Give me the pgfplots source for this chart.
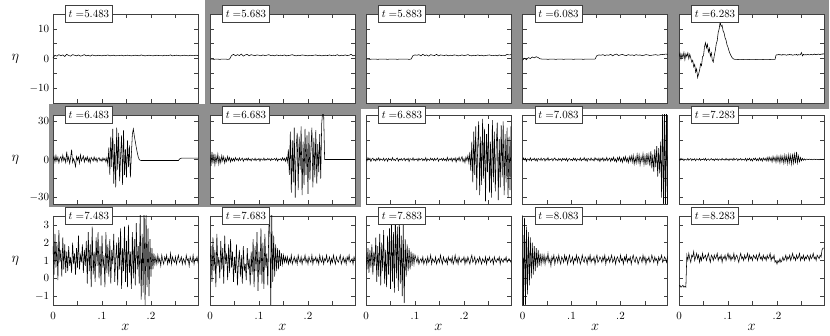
\documentclass[11pt,border=0pt]{standalone}
\usepackage{pgfplots}
\pgfplotsset{compat=1.18}
\definecolor{hl}{RGB}{143,143,143}

\pgfplotsset{
  every axis title/.style={at={(axis description cs:0,1)}, anchor=west, xshift=12pt,
    draw=black!75, fill=white, line width=0.5pt, inner xsep=3.5pt, inner ysep=5pt},
  every axis y label/.style={at={(axis description cs:-0.26,0.5)}, anchor=center, font=\Large},
  every axis x label/.style={at={(axis description cs:0.5,-0.25)}, anchor=center, font=\Large},
  panel/.style={scale only axis, width=145pt, height=89pt, xmin=0, xmax=0.296,
    xtick={0,0.1,0.2}, minor xtick={0.05,0.15,0.25},
    tick align=inside, major tick length=4pt, minor tick length=4pt,
    axis line style={black!75, line width=0.5pt},
    every tick/.style={black!75, line width=0.5pt},
    axis background/.style={fill=white},
    xticklabel style={yshift=-4pt}},
  r1/.style={ymin=-15, ymax=15, ytick={-10,0,10}, minor ytick={-5,5}},
  r2/.style={ymin=-35, ymax=35, ytick={-30,0,30}, minor ytick={-15,15}},
  r3/.style={ymin=-1.5, ymax=3.5, ytick={-1,0,1,2,3}},
  nox/.style={xticklabels={}},
  noy/.style={yticklabels={}},
  lefty/.style={ylabel={$\eta$}},
  botx/.style={xticklabels={$0$,$.1$,$.2$}, xlabel={$x$}},
  sig/.style={black, line width=0.55pt, mark=none},
}

\begin{document}
\begin{tikzpicture}[x=1pt,y=1pt]
\path[use as bounding box] (0,0) rectangle (830,-336);
% highlighted panels
\fill[hl] (204.5,0) rectangle (829,-109);
\fill[hl] (49,-104) rectangle (360.5,-207);

% ---------- row 1 ----------
\begin{axis}[panel, r1, nox, lefty, at={(53pt,-14pt)}, anchor=north west, title={$t\;{=}5.483$}]
\addplot[sig] table[x expr=\coordindex*0.004, y index=0, header=false, row sep=\\] {
0.2\\1.1\\0.8\\1.3\\0.9\\1.2\\0.7\\1.4\\1.0\\0.8\\1.3\\1.1\\0.9\\1.2\\0.8\\1.0\\1.3\\0.9\\1.1\\0.8\\
1.2\\1.0\\0.9\\1.1\\1.0\\0.9\\1.1\\1.0\\1.2\\0.9\\1.0\\1.1\\0.9\\1.0\\1.0\\1.1\\0.9\\1.0\\1.1\\1.0\\
0.9\\1.0\\1.1\\1.0\\0.9\\1.2\\1.0\\0.9\\1.0\\1.1\\1.0\\0.9\\1.0\\1.1\\1.0\\1.0\\0.9\\1.1\\1.0\\1.0\\
1.2\\0.9\\1.0\\1.1\\1.0\\0.9\\1.0\\1.1\\1.0\\0.9\\1.1\\1.0\\1.0\\1.1\\1.0\\1.0\\1.1\\1.0\\
};
\end{axis}

\begin{axis}[panel, r1, nox, noy, at={(210pt,-14pt)}, anchor=north west, title={$t\;{=}5.683$}]
\addplot[sig] table[x expr=\coordindex*0.004, y index=0, header=false, row sep=\\] {
-0.2\\-0.2\\-0.3\\-0.2\\-0.2\\-0.3\\-0.2\\-0.2\\-0.2\\-0.3\\-0.2\\
1.0\\1.4\\0.9\\1.3\\1.0\\1.5\\0.8\\1.2\\1.4\\0.9\\1.3\\1.1\\1.0\\1.2\\1.1\\0.9\\1.2\\1.0\\1.1\\1.3\\
1.0\\1.1\\0.9\\1.2\\1.0\\1.1\\1.0\\1.2\\0.9\\1.0\\1.1\\1.3\\1.0\\0.9\\1.1\\1.0\\1.2\\1.1\\1.0\\0.9\\
1.1\\1.0\\1.1\\1.2\\1.0\\1.1\\0.9\\1.0\\1.1\\1.0\\1.2\\1.0\\1.1\\1.0\\1.3\\0.9\\1.1\\1.0\\1.2\\1.0\\
1.1\\1.4\\0.9\\1.1\\1.0\\1.2\\1.0\\
};
\end{axis}

\begin{axis}[panel, r1, nox, noy, at={(366pt,-14pt)}, anchor=north west, title={$t\;{=}5.883$}]
\addplot[sig] table[x expr=\coordindex*0.004, y index=0, header=false, row sep=\\] {
-0.2\\-0.2\\-0.3\\-0.2\\-0.2\\-0.2\\-0.3\\-0.2\\-0.2\\-0.2\\-0.2\\-0.3\\-0.2\\-0.2\\-0.2\\-0.2\\-0.3\\-0.2\\-0.2\\-0.2\\
-0.2\\-0.2\\-0.3\\-0.2\\
1.0\\1.2\\1.1\\1.3\\0.9\\1.4\\1.0\\1.2\\0.8\\1.3\\1.1\\1.0\\1.4\\0.9\\1.2\\1.1\\1.0\\1.2\\0.9\\1.1\\
1.0\\1.2\\1.1\\0.9\\1.0\\1.2\\1.0\\1.1\\1.3\\1.0\\0.9\\1.1\\1.0\\1.2\\1.0\\1.1\\0.9\\1.0\\1.1\\1.2\\
1.0\\1.0\\1.1\\0.9\\1.2\\1.0\\1.1\\1.0\\1.4\\1.2\\1.3\\1.3\\1.2\\
};
\end{axis}

\begin{axis}[panel, r1, nox, noy, at={(522.5pt,-14pt)}, anchor=north west, title={$t\;{=}6.083$}]
\addplot[sig] table[x expr=\coordindex*0.004, y index=0, header=false, row sep=\\] {
-0.6\\0.1\\-0.4\\0.3\\0.0\\0.5\\0.2\\0.6\\0.3\\
-0.1\\-0.2\\-0.2\\-0.2\\-0.3\\-0.2\\-0.2\\-0.2\\-0.3\\-0.2\\-0.2\\-0.2\\-0.3\\-0.2\\-0.2\\-0.2\\-0.2\\-0.3\\-0.2\\-0.2\\
-0.2\\-0.2\\-0.3\\-0.2\\-0.2\\-0.2\\-0.2\\-0.2\\-0.2\\
1.0\\1.2\\1.1\\1.3\\1.0\\1.2\\1.1\\1.4\\0.9\\1.3\\1.5\\1.0\\1.2\\1.4\\1.1\\1.0\\1.3\\1.1\\1.2\\1.0\\
1.3\\1.1\\1.2\\1.0\\1.1\\1.3\\1.2\\1.0\\1.1\\1.2\\1.3\\1.1\\1.2\\1.4\\1.3\\1.5\\1.4\\1.4\\1.3\\
};
\end{axis}

\begin{axis}[panel, r1, nox, noy, at={(679pt,-14pt)}, anchor=north west, title={$t\;{=}6.283$}]
\addplot[sig] table[x expr=\coordindex*0.002, y index=0, header=false, row sep=\\] {
0.5\\1.8\\-0.2\\1.5\\0.3\\2.0\\-0.4\\1.6\\0.6\\1.9\\-0.1\\1.4\\0.2\\
-1.2\\-0.6\\-2.8\\-2.0\\-4.6\\-3.5\\-6.4\\-5.2\\
-4.0\\-1.8\\-2.4\\0.6\\0.9\\3.9\\5.3\\
3.6\\4.8\\2.2\\3.4\\0.8\\1.9\\-0.6\\-1.2\\
1.0\\2.6\\4.9\\6.0\\8.8\\10.0\\12.3\\
10.8\\11.2\\9.3\\8.6\\7.0\\6.2\\4.6\\3.8\\2.6\\1.7\\1.0\\0.4\\0.0\\-0.2\\-0.3\\
-0.3\\-0.3\\-0.4\\-0.3\\-0.3\\-0.3\\-0.3\\-0.4\\-0.3\\-0.3\\-0.3\\-0.3\\-0.3\\-0.4\\-0.3\\-0.3\\-0.3\\-0.3\\-0.3\\-0.3\\
-0.3\\-0.4\\-0.3\\-0.3\\-0.3\\-0.3\\-0.3\\-0.3\\-0.4\\-0.3\\-0.3\\-0.3\\-0.3\\-0.3\\-0.3\\-0.4\\-0.3\\-0.3\\-0.3\\-0.3\\
-0.3\\
1.1\\1.3\\1.2\\1.4\\1.2\\1.3\\1.1\\1.4\\1.2\\1.3\\1.2\\1.1\\1.3\\1.2\\1.4\\1.2\\1.3\\1.1\\1.2\\1.3\\
1.2\\1.4\\1.1\\1.3\\1.2\\1.3\\2.0\\0.9\\1.4\\1.2\\1.3\\1.2\\1.4\\1.3\\1.2\\1.3\\1.4\\1.2\\1.3\\1.5\\
1.3\\1.4\\1.3\\1.5\\1.4\\1.3\\1.5\\1.4\\1.6\\1.5\\1.5\\1.5\\
};
\end{axis}

% ---------- row 2 ----------
\begin{axis}[panel, r2, nox, lefty, at={(53pt,-115pt)}, anchor=north west, title={$t\;{=}6.483$}]
\addplot[sig] table[x expr=\coordindex*0.002, y index=0, header=false, row sep=\\] {
0.0\\2.5\\-2.0\\3.1\\-1.2\\1.8\\-2.6\\0.9\\2.2\\-1.5\\3.4\\-0.8\\1.2\\-2.4\\6.2\\-1.0\\2.0\\-3.1\\1.5\\7.8\\
-2.2\\0.6\\-1.8\\-5.6\\2.4\\-0.5\\1.9\\-2.8\\3.6\\-1.1\\0.8\\2.7\\-2.0\\1.4\\-0.6\\2.1\\-1.7\\0.9\\-2.5\\1.6\\
0.3\\-1.2\\2.0\\-0.8\\1.1\\-1.9\\0.7\\1.5\\-1.0\\0.4\\-1.4\\1.2\\-0.6\\0.9\\-1.8\\1.3\\
-4.0\\9.5\\-12.0\\18.0\\-6.0\\24.0\\-19.0\\12.0\\-22.0\\25.0\\-8.0\\21.0\\-17.0\\3.0\\19.0\\-20.0\\23.0\\-12.0\\8.0\\-14.0\\
15.0\\-6.0\\11.0\\-14.0\\4.0\\
20.0\\24.0\\18.5\\14.0\\9.5\\5.5\\2.0\\0.0\\
-0.6\\-0.8\\-0.8\\-0.8\\-0.8\\-0.8\\-0.8\\-0.8\\-0.8\\-0.8\\-0.8\\-0.8\\-0.8\\-0.8\\-0.8\\-0.8\\-0.8\\-0.8\\-0.8\\-0.8\\
-0.8\\-0.8\\-0.8\\-0.8\\-0.8\\-0.8\\-0.8\\-0.8\\-0.8\\-0.8\\-0.8\\-0.8\\-0.8\\-0.8\\-0.8\\-0.8\\-0.8\\-0.8\\-0.8\\-0.8\\
0.2\\0.8\\1.0\\1.0\\1.0\\1.0\\1.0\\1.0\\1.0\\1.0\\1.0\\1.0\\1.0\\1.0\\1.0\\1.0\\1.0\\1.0\\1.0\\1.0\\1.0\\1.0\\
};
\end{axis}

\begin{axis}[panel, r2, nox, noy, at={(210pt,-115pt)}, anchor=north west, title={$t\;{=}6.683$}]
\addplot[sig] table[x expr=\coordindex*0.002, y index=0, header=false, row sep=\\] {
3.5\\-5.0\\6.0\\-3.2\\4.5\\-4.1\\2.8\\-2.0\\4.2\\-3.5\\1.5\\-2.6\\3.0\\-1.2\\2.2\\-2.8\\1.0\\-1.5\\2.4\\-0.8\\
1.6\\-1.9\\0.9\\-1.1\\
0.8\\-1.2\\1.5\\-0.4\\0.6\\-1.0\\1.3\\-0.7\\0.2\\1.1\\-1.4\\0.5\\-0.3\\0.9\\-0.8\\1.2\\-0.5\\0.3\\-1.1\\0.7\\
0.1\\-0.6\\1.0\\-0.9\\0.4\\-0.2\\0.8\\-1.3\\0.6\\0.0\\-0.5\\1.1\\-0.7\\0.3\\-0.4\\0.9\\-0.2\\0.5\\-0.9\\0.7\\
-0.3\\0.2\\0.8\\-0.6\\1.0\\-1.2\\0.4\\-0.1\\0.6\\-0.8\\1.3\\-0.5\\0.9\\-1.4\\1.6\\-1.9\\
8.0\\-12.0\\22.0\\-26.0\\15.0\\-18.0\\25.0\\-30.0\\10.0\\21.0\\-24.0\\18.0\\-8.0\\26.0\\-28.0\\14.0\\-20.0\\24.0\\-12.0\\19.0\\
-27.0\\22.0\\-16.0\\9.0\\25.0\\-22.0\\17.0\\-14.0\\23.0\\-19.0\\12.0\\-10.0\\20.0\\-15.0\\
28.0\\38.0\\36.0\\0.0\\
0.0\\0.0\\0.0\\0.0\\0.0\\0.0\\0.0\\0.0\\0.0\\0.0\\0.0\\0.0\\0.0\\0.0\\0.0\\0.0\\0.0\\0.0\\0.0\\0.0\\
0.0\\0.0\\0.0\\0.0\\0.0\\0.0\\0.0\\0.0\\0.0\\0.0\\0.0\\0.0\\0.0\\0.0\\
};
\end{axis}

\begin{axis}[panel, r2, nox, noy, at={(366pt,-115pt)}, anchor=north west, title={$t\;{=}6.883$}]
\addplot[sig] table[x expr=\coordindex*0.002, y index=0, header=false, row sep=\\] {
0.6\\-1.0\\1.4\\-0.3\\0.9\\-1.5\\0.4\\1.1\\-0.7\\0.2\\-1.2\\0.8\\-0.4\\1.3\\-0.9\\0.5\\0.0\\-0.6\\1.0\\-1.1\\
0.3\\0.7\\-1.4\\0.9\\-0.2\\0.4\\-0.8\\1.5\\-0.5\\0.1\\-0.9\\0.6\\1.2\\-1.3\\0.3\\-0.4\\0.8\\-0.7\\0.2\\1.0\\
-1.0\\0.5\\-0.3\\0.9\\-1.6\\0.7\\0.1\\-0.5\\1.3\\-0.8\\0.4\\-0.2\\0.6\\-1.1\\1.0\\-0.4\\0.2\\0.8\\-0.9\\0.3\\
-0.6\\1.4\\-1.2\\0.5\\0.0\\-0.7\\1.1\\-0.3\\0.6\\-1.0\\0.9\\-0.5\\0.2\\1.2\\-1.4\\0.4\\-0.1\\0.7\\-0.8\\1.0\\
-0.6\\0.3\\-1.1\\1.6\\-0.9\\0.5\\-0.3\\1.1\\-1.5\\0.8\\-0.4\\1.3\\-2.0\\0.9\\-0.6\\1.8\\-1.2\\0.4\\2.2\\-1.7\\
0.6\\-2.4\\1.9\\-0.8\\3.0\\-2.6\\
6.0\\-9.0\\14.0\\-18.0\\22.0\\-12.0\\26.0\\-24.0\\10.0\\30.0\\-28.0\\18.0\\-20.0\\32.0\\-15.0\\24.0\\-33.0\\20.0\\-10.0\\28.0\\
-26.0\\14.0\\-30.0\\31.0\\-18.0\\22.0\\-25.0\\12.0\\29.0\\-32.0\\16.0\\-22.0\\27.0\\-14.0\\30.0\\-28.0\\20.0\\-18.0\\25.0\\-30.0\\
18.0\\-24.0\\26.0\\-20.0\\15.0\\
};
\end{axis}

\begin{axis}[panel, r2, nox, noy, at={(522.5pt,-115pt)}, anchor=north west, title={$t\;{=}7.083$}]
\addplot[sig] table[x expr=\coordindex*0.002, y index=0, header=false, row sep=\\] {
-0.8\\1.2\\-0.3\\0.9\\-1.4\\0.5\\0.2\\-0.6\\1.3\\-1.0\\0.4\\-0.2\\1.0\\-0.9\\0.6\\-1.3\\0.8\\0.0\\-0.5\\1.1\\
-0.7\\0.3\\0.9\\-1.2\\0.5\\-0.4\\1.4\\-0.8\\0.2\\-0.1\\0.7\\-1.0\\0.4\\1.2\\-0.6\\0.1\\-0.9\\0.8\\-0.3\\0.5\\
-1.1\\0.9\\-0.2\\0.6\\-0.7\\1.0\\-1.3\\0.3\\0.7\\-0.5\\0.2\\-0.9\\1.1\\-0.4\\0.8\\-1.2\\0.5\\0.0\\-0.6\\1.3\\
-1.0\\0.4\\-0.3\\1.5\\-0.8\\0.6\\-1.4\\0.9\\0.1\\-0.7\\1.2\\-0.5\\0.3\\-1.1\\1.4\\-0.2\\0.7\\-0.9\\1.0\\-1.6\\
0.8\\-0.4\\1.3\\-1.2\\0.5\\-0.8\\1.6\\-1.0\\0.2\\1.1\\-1.5\\0.9\\-0.6\\1.8\\-1.3\\0.4\\-1.9\\1.5\\-0.7\\2.0\\
-1.4\\0.8\\-2.2\\1.7\\-0.9\\2.4\\-1.6\\1.0\\-2.5\\2.1\\-1.2\\2.8\\-2.0\\
3.2\\-3.5\\1.5\\-2.8\\4.0\\-2.2\\3.6\\-4.1\\2.0\\-1.5\\4.5\\-3.8\\2.6\\-4.4\\5.0\\-2.5\\3.8\\-5.2\\
6.5\\-7.0\\4.0\\-9.5\\8.0\\-6.0\\10.5\\-13.5\\9.0\\-11.0\\14.0\\
-30.0\\40.0\\-40.0\\40.0\\-40.0\\40.0\\-40.0\\40.0\\-40.0\\
};
\end{axis}

\begin{axis}[panel, r2, nox, noy, at={(679pt,-115pt)}, anchor=north west, title={$t\;{=}7.283$}]
\addplot[sig] table[x expr=\coordindex*0.002, y index=0, header=false, row sep=\\] {
0.4\\-0.7\\0.9\\-0.2\\0.5\\-0.9\\0.3\\0.0\\-0.5\\0.8\\-0.6\\0.2\\0.7\\-0.8\\0.4\\-0.3\\0.6\\-1.0\\0.5\\0.1\\
-0.4\\0.8\\-0.7\\0.3\\-0.1\\0.6\\-0.5\\0.9\\-0.8\\0.2\\0.4\\-0.6\\0.1\\0.7\\-0.4\\0.3\\-0.9\\0.5\\-0.2\\0.6\\
-0.7\\0.4\\0.0\\-0.5\\0.8\\-0.3\\0.2\\-0.6\\0.9\\-0.4\\0.3\\-0.8\\0.6\\-0.1\\0.5\\-0.7\\1.0\\-0.4\\0.2\\0.7\\
-0.9\\0.4\\-0.2\\0.8\\-0.6\\0.3\\0.1\\-0.5\\0.9\\-1.1\\0.6\\-0.3\\1.0\\-0.8\\0.4\\-1.2\\0.9\\-0.2\\1.1\\-0.9\\
0.5\\-1.0\\1.3\\-0.6\\0.8\\-1.3\\1.2\\-0.4\\0.9\\-1.1\\
1.6\\-1.2\\2.0\\-0.8\\1.5\\-1.9\\2.4\\-1.0\\1.8\\-2.2\\2.8\\-1.5\\2.2\\-2.6\\3.0\\-1.8\\2.5\\-3.0\\3.4\\-2.0\\
2.8\\-3.2\\3.8\\-2.4\\3.2\\-3.6\\4.5\\-2.8\\4.2\\
-3.0\\6.0\\-2.5\\2.8\\-1.8\\1.5\\-1.0\\0.9\\-0.6\\0.5\\-0.4\\0.3\\
0.2\\-0.1\\0.3\\0.0\\0.2\\-0.2\\0.1\\0.3\\-0.1\\0.2\\0.0\\0.1\\-0.2\\0.2\\0.1\\0.0\\0.2\\0.1\\0.1\\0.2\\
};
\end{axis}

% ---------- row 3 ----------
\begin{axis}[panel, r3, botx, lefty, at={(53pt,-216pt)}, anchor=north west, title={$t\;{=}7.483$}]
\addplot[sig] table[x expr=\coordindex*0.002, y index=0, header=false, row sep=\\] {
1.8\\0.2\\2.5\\0.6\\2.0\\-0.1\\2.7\\0.9\\1.6\\0.1\\2.3\\0.5\\1.9\\0.3\\
1.5\\0.4\\1.8\\0.7\\1.2\\0.3\\2.0\\0.8\\1.4\\0.2\\1.7\\0.6\\2.4\\0.5\\1.3\\0.9\\1.9\\0.3\\1.6\\0.7\\2.1\\
-0.3\\2.6\\0.4\\1.9\\-0.5\\2.9\\0.2\\1.5\\-0.2\\2.3\\0.7\\2.6\\0.0\\
1.8\\-0.4\\2.4\\0.6\\1.3\\-0.5\\2.6\\0.3\\1.9\\0.1\\2.2\\-0.3\\1.6\\0.8\\2.5\\-0.2\\1.1\\2.0\\-0.4\\2.3\\0.5\\
2.8\\-0.6\\1.7\\0.4\\2.9\\-0.2\\2.1\\-0.5\\3.0\\0.3\\1.5\\-0.6\\2.6\\0.0\\2.2\\-0.4\\3.1\\0.5\\1.8\\-0.3\\
3.8\\-1.2\\2.5\\-0.8\\4.0\\-1.6\\3.6\\-0.5\\2.8\\-1.0\\
2.2\\0.1\\1.7\\0.5\\1.4\\0.8\\
1.2\\0.8\\1.3\\0.9\\1.1\\0.7\\1.3\\1.0\\0.8\\1.2\\1.0\\1.3\\0.8\\1.1\\0.9\\1.4\\0.8\\1.2\\1.0\\0.9\\
1.2\\0.8\\1.1\\1.3\\0.9\\1.0\\1.2\\0.8\\1.1\\1.0\\0.8\\1.3\\1.0\\1.1\\0.7\\1.2\\1.0\\0.9\\1.3\\0.8\\
1.1\\1.0\\1.2\\0.9\\1.1\\1.0\\
};
\end{axis}

\begin{axis}[panel, r3, botx, noy, at={(210pt,-216pt)}, anchor=north west, title={$t\;{=}7.683$}]
\addplot[sig] table[x expr=\coordindex*0.002, y index=0, header=false, row sep=\\] {
0.9\\1.8\\-0.2\\2.3\\0.4\\1.6\\-0.5\\2.5\\0.7\\1.2\\0.0\\2.1\\0.5\\1.7\\-0.3\\2.4\\0.8\\1.4\\-0.1\\1.9\\
0.3\\2.2\\0.6\\
1.5\\-0.2\\1.2\\0.3\\1.9\\-0.4\\0.9\\1.6\\0.1\\1.3\\-0.3\\1.8\\0.4\\0.8\\-0.1\\1.7\\0.5\\1.1\\-0.4\\1.5\\0.2\\
2.2\\-0.5\\1.8\\0.4\\2.6\\-0.7\\1.5\\0.2\\2.8\\-0.3\\2.0\\-0.6\\2.5\\0.6\\1.4\\-0.4\\2.7\\
3.8\\-1.8\\3.6\\
-0.2\\2.4\\0.1\\1.9\\
0.4\\1.7\\0.5\\1.6\\0.7\\1.4\\0.8\\1.3\\0.9\\1.2\\0.9\\
1.2\\0.8\\1.1\\0.9\\1.3\\0.8\\1.0\\1.2\\0.9\\1.1\\0.8\\1.3\\1.0\\0.9\\1.2\\0.8\\1.1\\1.0\\1.3\\0.9\\
1.1\\0.8\\1.2\\1.0\\0.9\\1.3\\0.8\\1.1\\1.0\\1.2\\0.9\\1.1\\0.8\\1.3\\1.0\\0.9\\1.2\\0.8\\1.1\\1.0\\
1.3\\0.9\\1.0\\1.2\\0.8\\1.1\\0.9\\1.3\\1.0\\0.8\\1.2\\1.0\\0.9\\1.1\\1.3\\0.8\\1.0\\1.2\\0.9\\1.1\\
0.8\\1.2\\1.0\\1.3\\0.9\\1.0\\1.1\\0.8\\1.2\\1.0\\1.1\\1.0\\
};
\end{axis}

\begin{axis}[panel, r3, botx, noy, at={(366pt,-216pt)}, anchor=north west, title={$t\;{=}7.883$}]
\addplot[sig] table[x expr=\coordindex*0.002, y index=0, header=false, row sep=\\] {
1.4\\0.5\\1.7\\0.3\\1.6\\0.6\\1.9\\0.2\\1.5\\0.7\\
2.3\\-0.2\\1.8\\0.1\\2.5\\-0.4\\2.0\\0.4\\2.7\\-0.3\\1.6\\-0.5\\2.4\\0.2\\2.8\\
-0.6\\3.2\\-0.2\\2.6\\-0.8\\3.6\\0.0\\2.9\\-0.7\\3.5\\-0.3\\2.4\\-1.0\\3.0\\-1.4\\2.2\\
0.1\\1.9\\0.4\\1.7\\0.5\\1.5\\0.7\\1.4\\0.8\\1.3\\
1.1\\0.9\\1.2\\0.8\\1.0\\1.1\\0.9\\1.2\\0.8\\1.0\\1.1\\0.8\\1.2\\0.9\\1.0\\1.3\\0.8\\1.1\\1.0\\0.9\\
1.2\\0.8\\1.0\\1.1\\0.9\\1.3\\1.0\\0.8\\1.2\\1.0\\0.9\\1.1\\0.8\\1.2\\1.0\\1.1\\0.9\\1.2\\0.8\\1.0\\
1.3\\0.9\\1.1\\0.8\\1.2\\1.0\\0.9\\1.1\\1.0\\1.2\\0.8\\1.1\\0.9\\1.2\\1.0\\0.8\\1.1\\1.3\\0.9\\1.0\\
1.2\\0.8\\1.0\\1.1\\0.9\\1.2\\1.0\\0.8\\1.1\\1.0\\0.9\\1.2\\0.8\\1.1\\1.0\\1.2\\0.9\\1.0\\1.1\\0.8\\
1.2\\1.0\\0.9\\1.1\\1.0\\1.2\\0.8\\1.1\\1.0\\0.9\\1.1\\1.0\\1.2\\0.9\\1.0\\1.1\\1.0\\0.9\\1.1\\1.0\\
};
\end{axis}

\begin{axis}[panel, r3, botx, noy, at={(522.5pt,-216pt)}, anchor=north west, title={$t\;{=}8.083$}]
\addplot[sig] table[x expr=\coordindex*0.002, y index=0, header=false, row sep=\\] {
3.6\\-1.6\\3.4\\-1.6\\2.9\\
-0.9\\2.6\\-0.4\\2.3\\0.0\\2.0\\0.2\\1.8\\0.4\\1.7\\0.6\\1.6\\0.7\\1.4\\0.8\\1.3\\
0.9\\1.3\\0.8\\1.2\\1.0\\1.4\\0.9\\1.1\\0.7\\1.2\\1.0\\1.3\\0.8\\1.1\\1.2\\0.9\\1.3\\1.0\\0.8\\1.2\\
1.1\\0.9\\1.3\\1.0\\1.2\\0.8\\1.1\\1.3\\0.9\\1.0\\1.2\\0.8\\1.1\\1.0\\1.3\\0.9\\1.2\\1.1\\0.8\\1.0\\
1.3\\1.0\\0.9\\1.2\\1.1\\0.8\\1.2\\1.0\\1.3\\0.9\\1.1\\1.0\\1.2\\0.8\\1.1\\1.3\\0.9\\1.0\\1.2\\1.1\\
0.9\\1.2\\1.0\\1.3\\0.8\\1.1\\1.0\\1.2\\0.9\\1.1\\1.3\\0.9\\1.0\\1.2\\0.8\\1.1\\1.2\\1.0\\0.9\\1.3\\
1.0\\1.1\\0.8\\1.2\\1.0\\1.3\\0.9\\1.1\\1.0\\1.2\\0.8\\1.1\\1.3\\1.0\\0.9\\1.2\\1.1\\0.8\\1.0\\1.2\\
1.1\\0.9\\1.3\\1.0\\1.2\\0.8\\1.1\\1.0\\1.2\\0.9\\1.0\\1.3\\1.1\\0.9\\1.2\\1.0\\1.1\\0.8\\1.2\\1.0\\
1.1\\1.3\\0.9\\1.0\\1.2\\1.1\\0.9\\1.2\\1.0\\1.1\\
};
\end{axis}

\begin{axis}[panel, r3, botx, noy, at={(679pt,-216pt)}, anchor=north west, title={$t\;{=}8.283$}]
\addplot[sig] table[x expr=\coordindex*0.002, y index=0, header=false, row sep=\\] {
-0.45\\-0.4\\-0.5\\-0.45\\-0.4\\-0.5\\-0.45\\-0.5\\
1.3\\1.0\\1.4\\1.1\\0.9\\1.3\\1.2\\1.5\\1.0\\1.2\\1.4\\1.1\\1.3\\0.9\\1.2\\1.0\\1.4\\1.1\\1.2\\1.3\\
1.0\\1.2\\1.4\\1.1\\0.9\\1.3\\1.2\\1.0\\1.3\\1.1\\1.2\\1.4\\1.0\\1.2\\1.1\\1.3\\0.9\\1.2\\1.1\\1.3\\
1.0\\1.2\\1.4\\1.1\\1.3\\1.0\\1.2\\1.1\\1.4\\1.0\\1.2\\1.3\\1.1\\0.9\\1.2\\1.4\\1.1\\1.2\\1.0\\1.3\\
1.1\\1.2\\1.4\\1.0\\1.3\\1.1\\1.2\\1.0\\1.3\\1.2\\1.1\\1.3\\1.0\\1.2\\1.4\\1.1\\1.2\\1.0\\1.3\\1.1\\
1.2\\1.0\\1.3\\1.1\\1.2\\1.4\\1.0\\1.2\\1.1\\1.3\\0.9\\1.0\\0.8\\1.0\\0.9\\1.1\\0.9\\1.0\\1.2\\1.0\\
1.1\\1.3\\1.0\\1.2\\1.1\\1.3\\1.0\\1.2\\1.4\\1.1\\1.2\\1.0\\1.3\\1.1\\1.2\\1.4\\1.0\\1.2\\1.1\\1.3\\
1.0\\1.2\\1.1\\1.3\\1.2\\1.0\\1.3\\1.1\\1.2\\1.4\\1.1\\1.2\\1.0\\1.3\\1.2\\1.1\\1.3\\1.2\\1.6\\1.7\\
1.7\\
};
\end{axis}
\end{tikzpicture}
\end{document}
